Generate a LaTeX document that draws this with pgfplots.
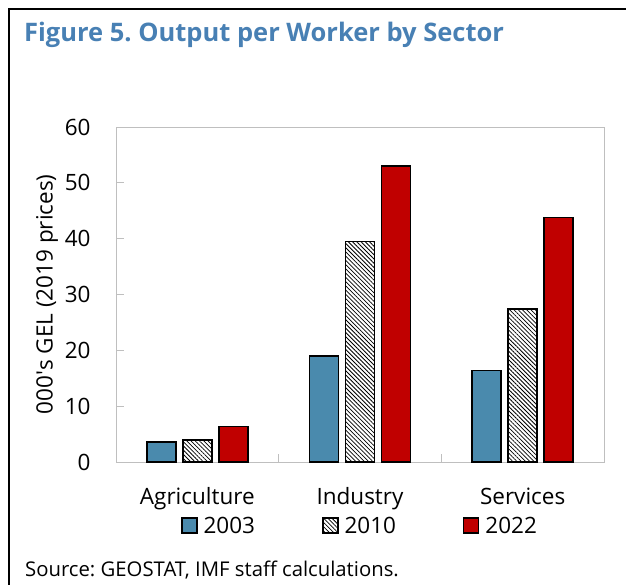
\documentclass[border=0pt]{standalone}
\usepackage{fontspec}
\setmainfont{Open Sans}[Ligatures=ResetAll]
\usepackage{pgfplots}
\pgfplotsset{compat=1.18}
\usetikzlibrary{patterns.meta}
\definecolor{barblue}{RGB}{74,138,173}
\definecolor{barred}{RGB}{192,0,0}
\definecolor{titleblue}{RGB}{72,128,180}
\definecolor{framegray}{RGB}{191,191,191}
\newcommand\fs[1]{\fontsize{#1bp}{#1bp}\selectfont}
\frenchspacing
\begin{document}
\frenchspacing
\begin{tikzpicture}
\useasboundingbox (0,0) rectangle (626bp,-585bp);
\draw[line width=2bp] (9bp,-585bp) -- (9bp,-9bp) -- (626bp,-9bp);
\node[anchor=base west, inner sep=0pt, text=titleblue, font=\fs{25.5}\bfseries] at (24bp,-41bp) {Figure 5. Output per Worker by Sector};
\node[anchor=base west, inner sep=0pt, font=\fs{20.3}] at (25bp,-576bp) {Source: GEOSTAT, IMF staff calculations.};
\begin{axis}[
  at={(116bp,-462bp)}, anchor=south west,
  scale only axis, width=488bp, height=335bp,
  ybar, bar width=0.178,
  xmin=-0.5, xmax=2.5, ymin=0, ymax=60,
  ytick={0,10,20,30,40,50,60},
  xtick={0.5,1.5}, xticklabels={},
  extra x ticks={0,1,2},
  extra x tick labels={Agriculture,Industry,Services},
  extra x tick style={major tick length=0pt},
  tick align=inside, tick pos=left,
  major tick length=8bp,
  axis line style={framegray, line width=1bp},
  tick style={framegray, line width=1bp},
  /pgf/number format/assume math mode=true,
  ticklabel style={font=\fs{22.5}},
  yticklabel style={xshift=-22bp},
  xticklabel style={yshift=-22bp},
  ylabel={000\textquotesingle s GEL (2019 prices)},
  ylabel style={font=\fs{22.5}, at={(axis description cs:-0.1414,0.5)}, anchor=center, rotate=0},
  legend columns=3,
  legend style={draw=none, fill=none, font=\fs{22.5}, at={(0.5,-0.19)}, anchor=center,
    /tikz/every odd column/.append style={column sep=4bp},
    /tikz/every even column/.append style={column sep=65bp}},
  legend image code/.code={\draw[#1, line width=1.5bp] (0bp,-7.5bp) rectangle (15bp,7.5bp);},
  every axis plot/.append style={draw=black, line width=1.5bp},
]
\addplot[fill=barblue, bar shift=-0.221] coordinates {(0,3.6) (1,19.0) (2,16.4)};
\addplot[fill=white, postaction={pattern={Lines[angle=-45,distance=3bp,line width=0.8bp]}}, bar shift=0] coordinates {(0,3.9) (1,39.5) (2,27.4)};
\addplot[fill=barred, bar shift=0.221] coordinates {(0,6.4) (1,53.0) (2,43.8)};
\legend{2003,2010,2022}
\end{axis}
\end{tikzpicture}
\end{document}
